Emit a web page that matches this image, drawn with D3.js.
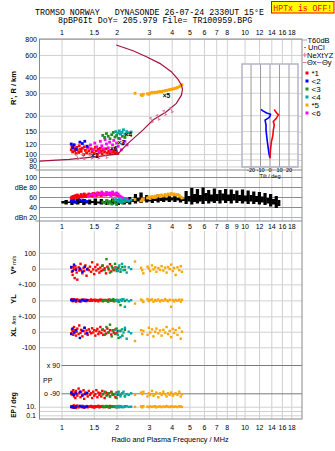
<!DOCTYPE html>
<html><head><meta charset="utf-8">
<script src="https://cdn.jsdelivr.net/npm/d3@7/dist/d3.min.js"></script>
<style>
body{margin:0;background:#fff}
svg{display:block}
text{font-family:"Liberation Sans",Arial,sans-serif;fill:#000}
.mono{font-family:"Liberation Mono","DejaVu Sans Mono",monospace}
</style>
</head><body>
<svg id="c" width="335" height="451"></svg>
<script>
// ---------------- DATA ----------------
const titleLine1 = "TROMSO NORWAY   DYNASONDE 26-07-24 2330UT 15°E";
const titleLine2 = "8pBP6It DoY= 205.979 File= TR100959.BPG";
const statusText = "HPTx is OFF!";
const freqTicks = [1,1.5,2,3,4,5,6,7,8,10,12,14,16,18];
const freqTicksMid = [1,1.5,2,3,4,5,6,7,8,9,10,12,14,16,18];
const heightTicks = [80,90,100,120,150,200,300,400,600,800];
const dbTicks = [20,40,60,80,100];
const dbTickLabels = {20:"dBn 20",40:"40",60:"60",80:"dBe 80",100:"100"};
const tiltTicks = [-20,-10,0,10,20];
const classNames = ["*1","<2","<3","<4","*5","<6"];
const classColors = ["#ff0000","#0000ff","#1f8f1f","#00a8a8","#ffa500","#ff00ff"];

// echoes: [freq MHz, R' km, amplitude dB, V* m/s, YL km, XL km, PP deg, EP deg]
const echoes1 = [
[1.13,108,58,5,2,-10,-95,12],[1.14,115,60,-20,8,15,-80,8],[1.15,104,57,-40,-5,5,-100,15],
[1.16,112,61,10,0,-20,-70,6],[1.17,118,59,-5,5,30,-110,20],[1.18,106,62,-60,-3,-5,-85,9],
[1.19,110,58,15,4,10,-120,14],[1.20,101,63,0,-8,-25,-75,5],[1.21,113,60,-25,2,0,-95,11],
[1.22,108,64,-70,6,20,-105,18],[1.24,103,59,8,-4,-15,-60,7],[1.25,116,62,-12,1,40,-90,10],
[1.27,109,61,30,3,-8,-115,13],[1.28,105,65,-8,-6,12,-80,8],[1.30,111,60,-30,0,-30,-100,16],
[1.32,99,63,5,5,5,-70,6],[1.33,114,66,-15,-2,25,-125,12],[1.35,107,61,20,4,-12,-85,9],
[1.37,102,64,-45,-5,8,-95,14],[1.39,112,62,0,2,-20,-110,7],[1.41,106,66,-10,0,15,-75,11],
[1.43,100,63,12,-3,0,-100,10],[1.45,110,65,-20,6,-10,-90,15],[1.47,104,62,40,-2,22,-120,8],
[1.49,108,67,-5,1,-5,-80,12],[1.51,101,64,-35,4,10,-105,6],[1.53,113,66,10,-4,-25,-95,13],
[1.55,106,63,-12,3,5,-70,9],[1.57,99,65,25,0,18,-115,11],[1.59,109,68,-3,-6,-15,-85,16],
[1.61,103,64,-25,2,0,-100,7],[1.63,111,66,6,5,30,-90,12],[1.65,105,63,-15,-1,-8,-110,10],
[1.67,100,67,18,3,12,-75,14],[1.69,108,65,-8,-4,-20,-95,8],[1.72,104,66,2,1,6,-120,11],
[1.75,110,64,-30,2,-12,-85,9],[1.78,102,67,12,-3,20,-100,13],[1.81,106,65,-6,5,-4,-90,7],
[1.84,101,66,28,0,10,-110,15],[1.87,107,64,-18,-2,-18,-80,10],[1.90,103,67,4,3,8,-100,12],
[1.93,105,65,-10,-5,-6,-95,9],[1.97,102,66,8,1,14,-115,11],[2.00,104,64,-4,2,-10,-85,8],
[2.03,101,63,2,0,4,-100,10]
];
const echoes2 = [
[1.13,120,52,10,3,-15,-85,8],[1.15,112,51,-15,-2,20,-95,12],[1.17,118,53,25,5,-5,-100,6],
[1.20,109,50,-8,0,10,-90,10],[1.26,124,54,0,-6,-40,-80,15],[1.30,121,52,-20,4,5,-105,9],
[1.34,126,53,12,-3,25,-95,7],[1.38,115,51,-5,2,-10,-88,11]
];
const echoes3 = [
[1.68,140,50,20,-5,15,-95,12],[1.72,135,48,-10,3,-20,-80,8],[1.76,145,52,60,0,30,-105,15],
[1.80,138,47,5,-8,-5,-90,10],[1.84,132,51,-25,5,45,-110,6],[1.88,142,46,15,-2,-30,-85,13],
[1.92,148,53,-5,8,10,-100,9],[1.96,136,49,30,-4,-15,-95,11],[2.00,140,45,-15,2,20,-120,7],
[2.05,133,50,8,-10,-40,-80,14],[2.10,144,52,-20,-30,5,-100,10],[2.15,138,48,10,6,-25,-90,8],
[2.22,135,51,-8,-4,12,-110,12]
];
const echoes4 = [
[1.98,150,55,5,-3,10,-95,9],[2.03,146,52,-15,2,-20,-85,12],[2.07,152,57,20,-6,5,-100,7],
[2.10,144,50,-5,4,-35,-110,14],[2.14,148,54,30,-2,15,-90,10],[2.18,155,51,-10,8,-5,-80,8],
[2.22,143,56,12,-40,25,-105,11],[2.27,150,53,-25,3,-45,-95,13],[2.33,147,52,8,-5,0,-100,9],
[2.40,149,54,-3,1,-10,-90,10]
];
const echoes5 = [
[2.52,300,55,45,-20,-60,-100,9],[2.72,292,52,5,5,10,-85,12],[2.76,288,56,-10,0,-15,-95,7],
[2.80,295,54,-30,-10,5,-80,14],[2.95,298,58,12,8,-20,-110,10],[3.00,294,60,0,-4,25,-90,8],
[3.05,300,57,-15,2,-5,-100,12],[3.12,305,61,20,6,15,-75,9],[3.18,302,59,-5,-8,-30,-105,11],
[3.25,306,62,8,3,0,-95,13],[3.30,304,60,-20,-2,20,-85,7],[3.38,308,63,3,5,-10,-115,10],
[3.45,310,61,-8,-6,8,-90,12],[3.52,309,64,15,2,-25,-100,8],[3.60,312,62,-12,-3,12,-80,11],
[3.68,314,65,6,8,-6,-95,9],[3.75,316,63,-25,0,30,-110,14],[3.82,318,66,10,-5,-15,-90,10],
[3.90,320,64,-3,4,5,-100,8],[3.97,322,67,25,-40,-35,-85,12],[4.05,324,65,-15,2,18,-105,10],
[4.12,326,66,4,-6,-8,-95,9],[4.20,329,64,-40,3,10,-90,11],[4.30,333,65,8,-2,-20,-100,8],
[4.40,338,63,-10,5,25,-80,13],[4.48,345,60,15,-8,-45,-110,10],[4.55,350,58,-20,4,0,-95,9]
];
// class 6: [freq, R', dB] (no drift/location data)
const echoes6 = [
[1.40,112,62],[1.44,118,64],[1.48,108,66],[1.52,122,63],[1.56,114,68],[1.60,105,65],
[1.63,126,67],[1.66,116,70],[1.70,110,64],[1.73,130,66],[1.76,120,69],[1.80,112,65],
[1.83,124,68],[1.86,106,63],[1.90,118,70],[1.93,128,66],[1.96,110,64],[2.00,122,68],
[2.04,115,66],[2.08,132,62],[2.12,108,60],[2.16,120,58],[2.22,126,57],[2.28,118,55]
];
// Total amplitude band: [freq, low dB, high dB]
const noiseBand = [
[1.00,47,52],[1.04,45,54],[1.08,48,51],[1.12,44,55],[1.16,47,52],[1.20,45,57],[1.25,48,52],
[1.30,44,56],[1.35,47,51],[1.40,45,55],[1.45,48,52],[1.50,44,57],[1.56,47,51],[1.62,45,56],
[1.68,48,52],[1.74,44,55],[1.80,47,51],[1.87,45,57],[1.94,48,52],[2.01,44,56],[2.08,47,53],
[2.16,45,58],[2.24,48,53],[2.32,45,60],[2.40,50,56],[2.49,47,66],[2.58,51,58],[2.67,48,69],
[2.77,52,57],[2.87,49,64],[2.97,51,56],[3.08,48,62],[3.19,52,57],[3.31,49,65],[3.43,52,58],
[3.55,50,63],[3.68,53,58],[3.81,50,66],[3.95,53,59],[4.09,50,64],[4.24,53,58],[4.39,49,62],
[4.55,52,57],[4.71,46,72],[4.88,51,62],[5.06,45,78],[5.24,50,66],[5.43,47,76],[5.63,51,64],
[5.83,46,79],[6.04,52,68],[6.26,47,74],[6.48,51,65],[6.72,48,77],[6.96,52,66],[7.21,47,74],
[7.47,53,67],[7.74,48,76],[8.02,52,65],[8.31,47,75],[8.61,53,66],[8.92,48,73],[9.24,52,64],
[9.57,47,75],[9.92,51,63],[10.28,46,73],[10.65,51,64],[11.03,46,71],[11.43,50,62],[11.84,45,70],
[12.27,49,61],[12.71,44,68],[13.17,47,58],[13.64,41,66],[14.13,45,56],[14.64,38,62],[15.17,42,54]
];
// true-height electron density profile: [plasma freq, R km]
const profile = [
[0.758,88],[1.106,91],[1.61,96],[1.9,99],[2.03,100],[2.26,118],[2.79,155],[3.16,185],
[3.74,215],[4.24,250],[4.52,290],[4.58,322],[4.52,348],[4.33,386],[3.98,443],[3.44,515],
[2.91,581],[2.46,647],[1.99,718]
];
const nextyzMarks = [[1.22,95],[1.32,95],[1.45,96],[1.58,96],[1.75,97],[3.10,185],[3.37,194],[3.66,211],[3.98,222]];
const echoTags = [[1.52,98,"×1"],[3.74,290,"×5"],[2.32,142,"×4"],[2.12,124,"×3"],[1.93,110,"×6"]];
// tilt profiles: [R km, tilt deg]
const tiltX = [[93,0.5],[108,1],[125,2],[140,3.5],[154,4],[169,5],[180,4],[190,7],[196,8],[203,9.5],[210,7.5],[218,6],[224,5]];
const tiltY = [[93,0.5],[100,-0.5],[125,-2.3],[154,-3.7],[169,-3.7],[185,-4.7],[192,-1],[198,0.5],[205,1],[210,-3],[218,-7],[224,-9]];

// ---------------- LAYOUT ----------------
const svg = d3.select("#c");
const X0 = 39.5, X1 = 302;
const x = d3.scaleLog().domain([0.758, 20.6]).range([X0, X1]);
const yR = d3.scaleLog().domain([75, 800]).range([170, 39]);
const yDb = d3.scaleLinear().domain([12, 114]).range([221, 170]);
const yV = d3.scaleLinear().domain([-100, 100]).range([284.4, 252.8]);
const yYL = d3.scaleLinear().domain([-100, 100]).range([316.4, 284.4]);
const yXL = d3.scaleLinear().domain([-100, 100]).range([347.3, 316.1]);
const yPP = d3.scaleLinear().domain([-90, 90]).range([393.3, 365]);
const yEP = d3.scaleLog().domain([0.1, 10]).range([415.3, 406.7]);
const xT = d3.scaleLinear().domain([-29, 30]).range([242, 298]);

const GRID = "#d0d0d0", FRAME = "#8a8a8a";
svg.append("rect").attr("width",335).attr("height",451).attr("fill","#fff");

function styleAxis(g, col, fs){
  g.select(".domain").remove();
  g.selectAll(".tick line").attr("stroke", col).attr("stroke-width",1);
  g.selectAll(".tick text").attr("font-size", fs||7).attr("fill","#000")
   .style("font-family","'Liberation Sans',Arial,sans-serif");
}
const fmtF = d => String(d);

svg.append("g").attr("transform","translate(0,39)")
  .call(d3.axisTop(x).tickValues(freqTicks).tickFormat(fmtF).tickSize(-131).tickPadding(4))
  .call(g=>styleAxis(g,GRID));
svg.append("g").attr("transform",`translate(${X0},0)`)
  .call(d3.axisLeft(yR).tickValues(heightTicks).tickFormat(d=>String(d)).tickSize(-(X1-X0)).tickPadding(2.5))
  .call(g=>styleAxis(g,GRID));

svg.append("g").attr("transform","translate(0,170)")
  .call(d3.axisBottom(x).tickValues(freqTicks).tickFormat("").tickSize(51))
  .call(g=>styleAxis(g,GRID));
svg.append("g").attr("transform",`translate(${X0},0)`)
  .call(d3.axisLeft(yDb).tickValues(dbTicks).tickFormat(d=>dbTickLabels[d]).tickSize(-(X1-X0)).tickPadding(2.5))
  .call(g=>{styleAxis(g,"#8c8c8c"); g.selectAll(".tick line").filter(d=>d===20).attr("stroke","#aab0d8");});

svg.append("g").attr("transform","translate(0,231)")
  .call(d3.axisTop(x).tickValues(freqTicksMid).tickFormat(fmtF).tickSize(-188).tickPadding(2.5))
  .call(g=>styleAxis(g,GRID));
svg.append("g").attr("transform","translate(0,419)")
  .call(d3.axisBottom(x).tickValues(freqTicks).tickFormat(fmtF).tickSize(0).tickPadding(6))
  .call(g=>styleAxis(g,GRID));
function leftAxis(scale, vals, labels){
  svg.append("g").attr("transform",`translate(${X0},0)`)
    .call(d3.axisLeft(scale).tickValues(vals).tickFormat((d,i)=>labels[i]).tickSize(-(X1-X0)).tickPadding(3.5))
    .call(g=>styleAxis(g,GRID));
}
leftAxis(yV,[100,0,-100],["100","0","+-100"]);
leftAxis(yYL,[0,-100],["0","+-100"]);
leftAxis(yXL,[0,-100],["0","-100"]);
leftAxis(yEP,[10,1,0.1],["10.","","0.1"]);
const x1MHz = x(1);
svg.append("g").attr("transform",`translate(${x1MHz},0)`)
  .call(d3.axisLeft(yPP).tickValues([90,-90]).tickFormat(d=>d>0?"x 90":"o -90").tickSize(-(X1-x1MHz)).tickPadding(1.5))
  .call(g=>styleAxis(g,"#7a7a7a"));

svg.append("rect").attr("x",X0).attr("y",39).attr("width",X1-X0).attr("height",380)
  .attr("fill","none").attr("stroke",FRAME);
[170,221].forEach(v=>svg.append("line").attr("x1",X0-4).attr("x2",X1).attr("y1",v).attr("y2",v).attr("stroke",FRAME));

// ---------------- DATA MARKS ----------------
const nb = svg.append("g");
noiseBand.forEach((d,i)=>{
  const xa = x(d[0]);
  const xb = i<noiseBand.length-1 ? x(noiseBand[i+1][0]) : xa+2.5;
  nb.append("rect").attr("x",xa-0.2).attr("width",Math.max(1.5,xb-xa+0.4))
    .attr("y",yDb(d[2])).attr("height",yDb(d[1])-yDb(d[2])).attr("fill","#000");
});

const classes = [echoes1,echoes2,echoes3,echoes4,echoes5,echoes6];
const drawOrder = [0,5,1,2,3,4];
function sq(g, px, py, col, s){
  g.append("rect").attr("x",px-s/2).attr("y",py-s/2).attr("width",s).attr("height",s).attr("fill",col);
}
const topG = svg.append("g"), dbG = svg.append("g"), lowG = svg.append("g");
drawOrder.forEach(ci=>{
  const col = classColors[ci];
  classes[ci].forEach(d=>{
    sq(topG, x(d[0]), yR(d[1]), col, 2.8);
    sq(dbG, x(d[0]), yDb(d[2]), col, 2.8);
    if (d.length>3){
      sq(lowG, x(d[0]), yV(d[3]), col, 2.4);
      sq(lowG, x(d[0]), yYL(d[4]), col, 2.4);
      sq(lowG, x(d[0]), yXL(d[5]), col, 2.4);
      sq(lowG, x(d[0]), yPP(d[6]), col, 2.4);
      sq(lowG, x(d[0]), yEP(d[7]), col, 2.4);
    }
  });
});

svg.append("path").datum(profile)
  .attr("d", d3.line().x(d=>x(d[0])).y(d=>yR(d[1])))
  .attr("fill","none").attr("stroke","#a3143f").attr("stroke-width",1.2);
nextyzMarks.forEach(d=>{
  const g = svg.append("g").attr("transform",`translate(${x(d[0])},${yR(d[1])}) rotate(-25)`)
    .attr("stroke","#e0709a").attr("stroke-width",1);
  g.append("line").attr("x1",0).attr("x2",0).attr("y1",-2.5).attr("y2",2.5);
  g.append("line").attr("x1",-1.5).attr("x2",1.5).attr("y1",-2.5).attr("y2",-2.5);
  g.append("line").attr("x1",-1.5).attr("x2",1.5).attr("y1",2.5).attr("y2",2.5);
});
echoTags.forEach(d=>{
  svg.append("text").attr("x",x(d[0])).attr("y",yR(d[1])+2.5).attr("text-anchor","middle")
    .attr("font-size",6.5).attr("font-weight","bold").text(d[2]);
});

// ---------------- TILT INSET ----------------
const inset = svg.append("g");
inset.append("rect").attr("x",242).attr("y",64).attr("width",56).attr("height",103).attr("fill","#fff");
heightTicks.filter(h=>yR(h)>64 && yR(h)<167).forEach(h=>
  inset.append("line").attr("x1",242).attr("x2",298).attr("y1",yR(h)).attr("y2",yR(h)).attr("stroke",GRID));
inset.append("g").attr("transform","translate(0,64)")
  .call(d3.axisBottom(xT).tickValues(tiltTicks).tickFormat("").tickSize(103))
  .call(g=>styleAxis(g,"#9a9a9a"));
inset.append("rect").attr("x",242).attr("y",64).attr("width",56).attr("height",103)
  .attr("fill","none").attr("stroke","#b4b4cc").attr("stroke-width",1.5);
const tline = d3.line().x(d=>xT(d[1])).y(d=>yR(d[0]));
inset.append("path").datum(tiltY).attr("d",tline).attr("fill","none").attr("stroke","#0000ff").attr("stroke-width",1.6);
inset.append("path").datum(tiltX).attr("d",tline).attr("fill","none").attr("stroke","#ff0000").attr("stroke-width",1.6);
inset.append("g").attr("transform","translate(0,167)")
  .call(d3.axisBottom(xT).tickValues(tiltTicks).tickFormat(d=>String(d)).tickSize(0).tickPadding(1))
  .call(g=>styleAxis(g,"#999",5.5));
inset.append("text").attr("x",270).attr("y",178).attr("text-anchor","middle").attr("font-size",5.5).text("Tilt / deg");

// ---------------- LEGEND ----------------
const lg = svg.append("g");
lg.append("line").attr("x1",302.5).attr("x2",307).attr("y1",40).attr("y2",40).attr("stroke","#a0a0a0");
lg.append("text").attr("x",307.5).attr("y",42.5).attr("font-size",7.5).text("T60dB");
lg.append("rect").attr("x",304.5).attr("y",47).attr("width",1).attr("height",1).attr("fill","#000");
lg.append("text").attr("x",308).attr("y",50).attr("font-size",7.5).text("UnCl");
lg.append("line").attr("x1",302.5).attr("x2",307).attr("y1",55).attr("y2",55).attr("stroke","#e0709a");
lg.append("line").attr("x1",304.8).attr("x2",304.8).attr("y1",52.8).attr("y2",57.2).attr("stroke","#e0709a");
lg.append("text").attr("x",307).attr("y",57.5).attr("font-size",7.5).text("NeXtYZ");
lg.append("line").attr("x1",302.5).attr("x2",306.5).attr("y1",62.5).attr("y2",62.5).attr("stroke","#f08080");
lg.append("text").attr("x",307).attr("y",65).attr("font-size",7.5).text("Θx");
lg.append("line").attr("x1",317).attr("x2",321.5).attr("y1",62.5).attr("y2",62.5).attr("stroke","#8080ff");
lg.append("text").attr("x",322).attr("y",65).attr("font-size",7.5).text("Θy");
classNames.forEach((n,i)=>{
  const yy = 73 + i*8;
  lg.append("rect").attr("x",305.5).attr("y",yy-1.5).attr("width",3).attr("height",3).attr("fill",classColors[i]);
  lg.append("text").attr("x",311.5).attr("y",yy+3).attr("font-size",8).text(n);
});

// ---------------- TITLES & LABELS ----------------
svg.append("text").attr("class","mono").attr("x",35).attr("y",15).attr("font-size",8.3).style("white-space","pre").text(titleLine1);
svg.append("text").attr("class","mono").attr("x",58).attr("y",22.5).attr("font-size",8.3).style("white-space","pre").text(titleLine2);
svg.append("rect").attr("x",271.5).attr("y",1.5).attr("width",62.5).attr("height",11.5).attr("fill","#ffff00").attr("stroke","#ff0000");
svg.append("text").attr("class","mono").attr("x",302.8).attr("y",10.8).attr("text-anchor","middle")
  .attr("font-size",8.2).style("fill","#ff0000").text(statusText);

function vlabel(txt, cx, cy, fs, bold){
  svg.append("text").attr("transform",`translate(${cx},${cy}) rotate(-90)`).attr("text-anchor","middle")
    .attr("font-size",fs).attr("font-weight",bold?"bold":"normal").text(txt);
}
vlabel("R', R / km", 15.5, 88, 7.5, true);
const vt = svg.append("text").attr("transform","translate(16,265) rotate(-90)").attr("text-anchor","middle");
vt.append("tspan").attr("font-size",7.5).attr("font-weight","bold").text("V*");
vt.append("tspan").attr("font-size",5.5).text(" m/s");
vlabel("YL", 16, 299, 7.5, true);
vlabel("/km", 16, 320, 5.5, false);
vlabel("XL", 16, 332, 7.5, true);
vlabel("EP / deg", 16, 405, 6.5, true);
svg.append("text").attr("x",43).attr("y",382.5).attr("font-size",7).text("PP");
svg.append("text").attr("x",170).attr("y",442).attr("text-anchor","middle").attr("font-size",7.3)
  .text("Radio and Plasma Frequency / MHz");
</script>
</body></html>
